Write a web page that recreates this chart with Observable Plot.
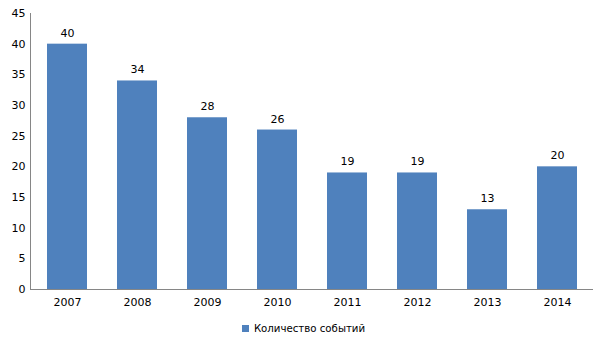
<!DOCTYPE html>
<html>
<head>
<meta charset="utf-8">
<script src="https://cdn.jsdelivr.net/npm/d3@7"></script>
<script src="https://cdn.jsdelivr.net/npm/@observablehq/plot@0.6"></script>
<style>
  body { margin: 0; background: #fff; font-family: "DejaVu Sans", sans-serif; }
  #chart { width: 605px; }
  .legend { display: flex; justify-content: center; align-items: center; font-size: 10.2px; color: #000; height: 30px; margin-top: 3px; padding-left: 2px; }
  .legend .sw { width: 7px; height: 7px; background: #4F81BD; margin-right: 5px; }
</style>
</head>
<body>
<div id="chart"></div>
<script>
const years = ["2007", "2008", "2009", "2010", "2011", "2012", "2013", "2014"];
const counts = [40, 34, 28, 26, 19, 19, 13, 20];
const seriesName = "Количество событий";
const yTicks = [0, 5, 10, 15, 20, 25, 30, 35, 40, 45];

const data = years.map((y, i) => ({year: y, value: counts[i]}));

const plot = Plot.plot({
  width: 605,
  height: 310,
  marginTop: 13,
  marginBottom: 21,
  marginLeft: 30,
  marginRight: 12,
  style: {fontFamily: "DejaVu Sans, sans-serif", fontSize: "11px", color: "#000"},
  x: {domain: years, paddingInner: 0.43, paddingOuter: 0.215, label: null},
  y: {domain: [0, 45], label: null},
  marks: [
    Plot.barY(data, {x: "year", y: "value", fill: "#4F81BD"}),
    Plot.text(data, {x: "year", y: "value", text: d => String(d.value), dy: -11, fill: "#000"}),
    Plot.axisX({tickSize: 0, tickPadding: 9, label: null}),
    Plot.axisY({ticks: yTicks, tickSize: 0, tickPadding: 5, label: null}),
    Plot.frame({anchor: "left", stroke: "#868686"}),
    Plot.ruleY([0], {stroke: "#868686"})
  ]
});
document.getElementById("chart").appendChild(plot);

const legend = document.createElement("div");
legend.className = "legend";
legend.innerHTML = `<span class="sw"></span><span>${seriesName}</span>`;
document.getElementById("chart").appendChild(legend);
</script>
</body>
</html>
